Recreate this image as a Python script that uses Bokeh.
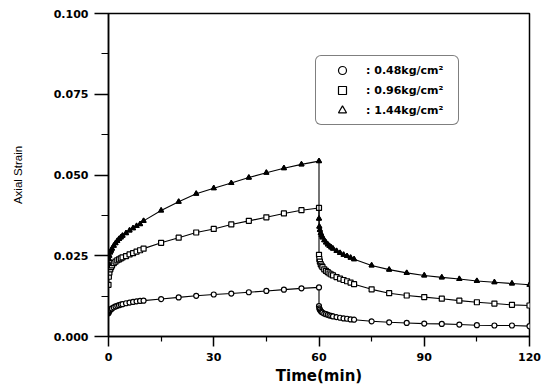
from bokeh.plotting import figure
from bokeh.models import Range1d, FixedTicker, NumeralTickFormatter, Legend, LegendItem
from bokeh.embed import file_html
from bokeh.resources import INLINE

# ---- data ----
time_min = [0, 0.1, 0.25, 0.5, 0.75, 1, 1.5, 2, 2.5, 3, 3.5, 4, 5, 6, 7, 8, 9, 10,
            15, 20, 25, 30, 35, 40, 45, 50, 55, 60,
            60, 60.1, 60.25, 60.5, 60.75, 61, 61.5, 62, 62.5, 63, 63.5, 64, 65, 66, 67, 68, 69, 70,
            75, 80, 85, 90, 95, 100, 105, 110, 115, 120]

strain_048 = [0.0072, 0.0076, 0.0079, 0.0082, 0.0085, 0.0087, 0.0090, 0.0093, 0.0095, 0.0097,
              0.0099, 0.0100, 0.0103, 0.0105, 0.0107, 0.0109, 0.0110, 0.0111,
              0.0116, 0.0121, 0.0126, 0.0130, 0.0133, 0.0137, 0.0141, 0.0145, 0.0149, 0.0152,
              0.0094, 0.0087, 0.0083, 0.0079, 0.0076, 0.0074, 0.0071, 0.0069, 0.0067, 0.0065,
              0.0064, 0.0062, 0.0060, 0.0058, 0.0056, 0.0055, 0.0053, 0.0052,
              0.0047, 0.0044, 0.0042, 0.0040, 0.0039, 0.0037, 0.0035, 0.0034, 0.0034, 0.0032]

strain_096 = [0.0160, 0.0185, 0.0198, 0.0208, 0.0215, 0.0220, 0.0227, 0.0232, 0.0236, 0.0239,
              0.0242, 0.0245, 0.0249, 0.0254, 0.0258, 0.0263, 0.0267, 0.0272,
              0.0290, 0.0306, 0.0322, 0.0333, 0.0347, 0.0358, 0.0369, 0.0381, 0.0391, 0.0398,
              0.0253, 0.0240, 0.0232, 0.0224, 0.0219, 0.0215, 0.0208, 0.0203, 0.0199, 0.0195,
              0.0192, 0.0189, 0.0184, 0.0179, 0.0175, 0.0171, 0.0167, 0.0162,
              0.0146, 0.0134, 0.0127, 0.0122, 0.0117, 0.0111, 0.0106, 0.0102, 0.0098, 0.0096]

strain_144 = [0.0225, 0.0240, 0.0250, 0.0260, 0.0266, 0.0272, 0.0281, 0.0289, 0.0296, 0.0302,
              0.0307, 0.0312, 0.0320, 0.0328, 0.0335, 0.0342, 0.0348, 0.0358,
              0.0390, 0.0417, 0.0442, 0.0459, 0.0475, 0.0492, 0.0507, 0.0521, 0.0533, 0.0543,
              0.0365, 0.0340, 0.0330, 0.0320, 0.0313, 0.0307, 0.0298, 0.0291, 0.0285, 0.0280,
              0.0276, 0.0272, 0.0265, 0.0259, 0.0253, 0.0249, 0.0244, 0.0239,
              0.0220, 0.0207, 0.0197, 0.0189, 0.0183, 0.0178, 0.0172, 0.0168, 0.0164, 0.0160]

series_labels = [": 0.48kg/cm\u00b2", ": 0.96kg/cm\u00b2", ": 1.44kg/cm\u00b2"]
x_ticks = [0, 30, 60, 90, 120]
x_minor = [15, 45, 75, 105]
y_ticks = [0.0, 0.025, 0.05, 0.075, 0.1]
y_minor = [0.0125, 0.0375, 0.0625, 0.0875]

p = figure(width=548, height=387, output_backend="svg", toolbar_location=None,
           x_range=Range1d(0, 120), y_range=Range1d(0, 0.1),
           min_border_left=108, min_border_right=19, min_border_top=13, min_border_bottom=50)
p.background_fill_color = "white"
p.border_fill_color = "white"
p.grid.visible = False
p.outline_line_color = "black"
p.outline_line_width = 1.5

# axes
p.xaxis.ticker = FixedTicker(ticks=x_ticks, minor_ticks=x_minor)
p.yaxis.ticker = FixedTicker(ticks=y_ticks, minor_ticks=y_minor)
p.yaxis.formatter = NumeralTickFormatter(format="0.000")
for ax in (p.xaxis[0], p.yaxis[0]):
    ax.axis_line_width = 1.5
    ax.major_tick_line_width = 1.5
    ax.minor_tick_line_width = 1.2
    ax.major_tick_in = 0
    ax.minor_tick_in = 0
    ax.major_label_text_font = "DejaVu Sans"
    ax.major_label_text_font_style = "bold"
    ax.major_label_text_font_size = "11px"
    ax.major_label_text_color = "black"
    ax.axis_label_text_color = "black"
    ax.major_label_standoff = 6
p.xaxis.major_tick_out = 10
p.xaxis.minor_tick_out = 5
p.yaxis.major_tick_out = 14
p.yaxis.minor_tick_out = 7

p.xaxis.axis_label = "Time(min)"
p.xaxis.axis_label_text_font = "DejaVu Sans"
p.xaxis.axis_label_text_font_style = "bold"
p.xaxis.axis_label_text_font_size = "15px"
p.xaxis.axis_label_standoff = 3

p.yaxis.axis_label = "Axial Strain"
p.yaxis.axis_label_text_font = "Liberation Sans"
p.yaxis.axis_label_text_font_style = "normal"
p.yaxis.axis_label_text_font_size = "11.5px"
p.yaxis.axis_label_standoff = 27

# data: lines + open markers (the open markers are what the legend shows)
specs = [(strain_048, "circle"), (strain_096, "square"), (strain_144, "triangle")]
items = []
for lab, (vals, mk) in zip(series_labels, specs):
    p.line(time_min, vals, line_color="black", line_width=1.1)
    r = p.scatter(time_min, vals, marker=mk, size=5, fill_color="white",
                  line_color="black", line_width=1.2)
    items.append(LegendItem(label=lab, renderers=[r]))
# the triangles look solid in the original
p.scatter(time_min, strain_144, marker="triangle", size=5, fill_color="black",
          line_color="black", line_width=1.0)

legend = Legend(items=items, location=(207, 211), margin=0, padding=4,
                glyph_width=44, glyph_height=20, label_height=20, spacing=0,
                label_standoff=2, label_width=88,
                label_text_font="DejaVu Sans", label_text_font_style="bold",
                label_text_font_size="11px", label_text_color="black",
                border_line_color="black", border_line_width=1.3,
                background_fill_color="white", background_fill_alpha=1.0)
if "border_radius" in Legend.properties():
    legend.border_radius = 6
p.add_layout(legend, "center")

open("out.html", "w").write(file_html(p, INLINE))
